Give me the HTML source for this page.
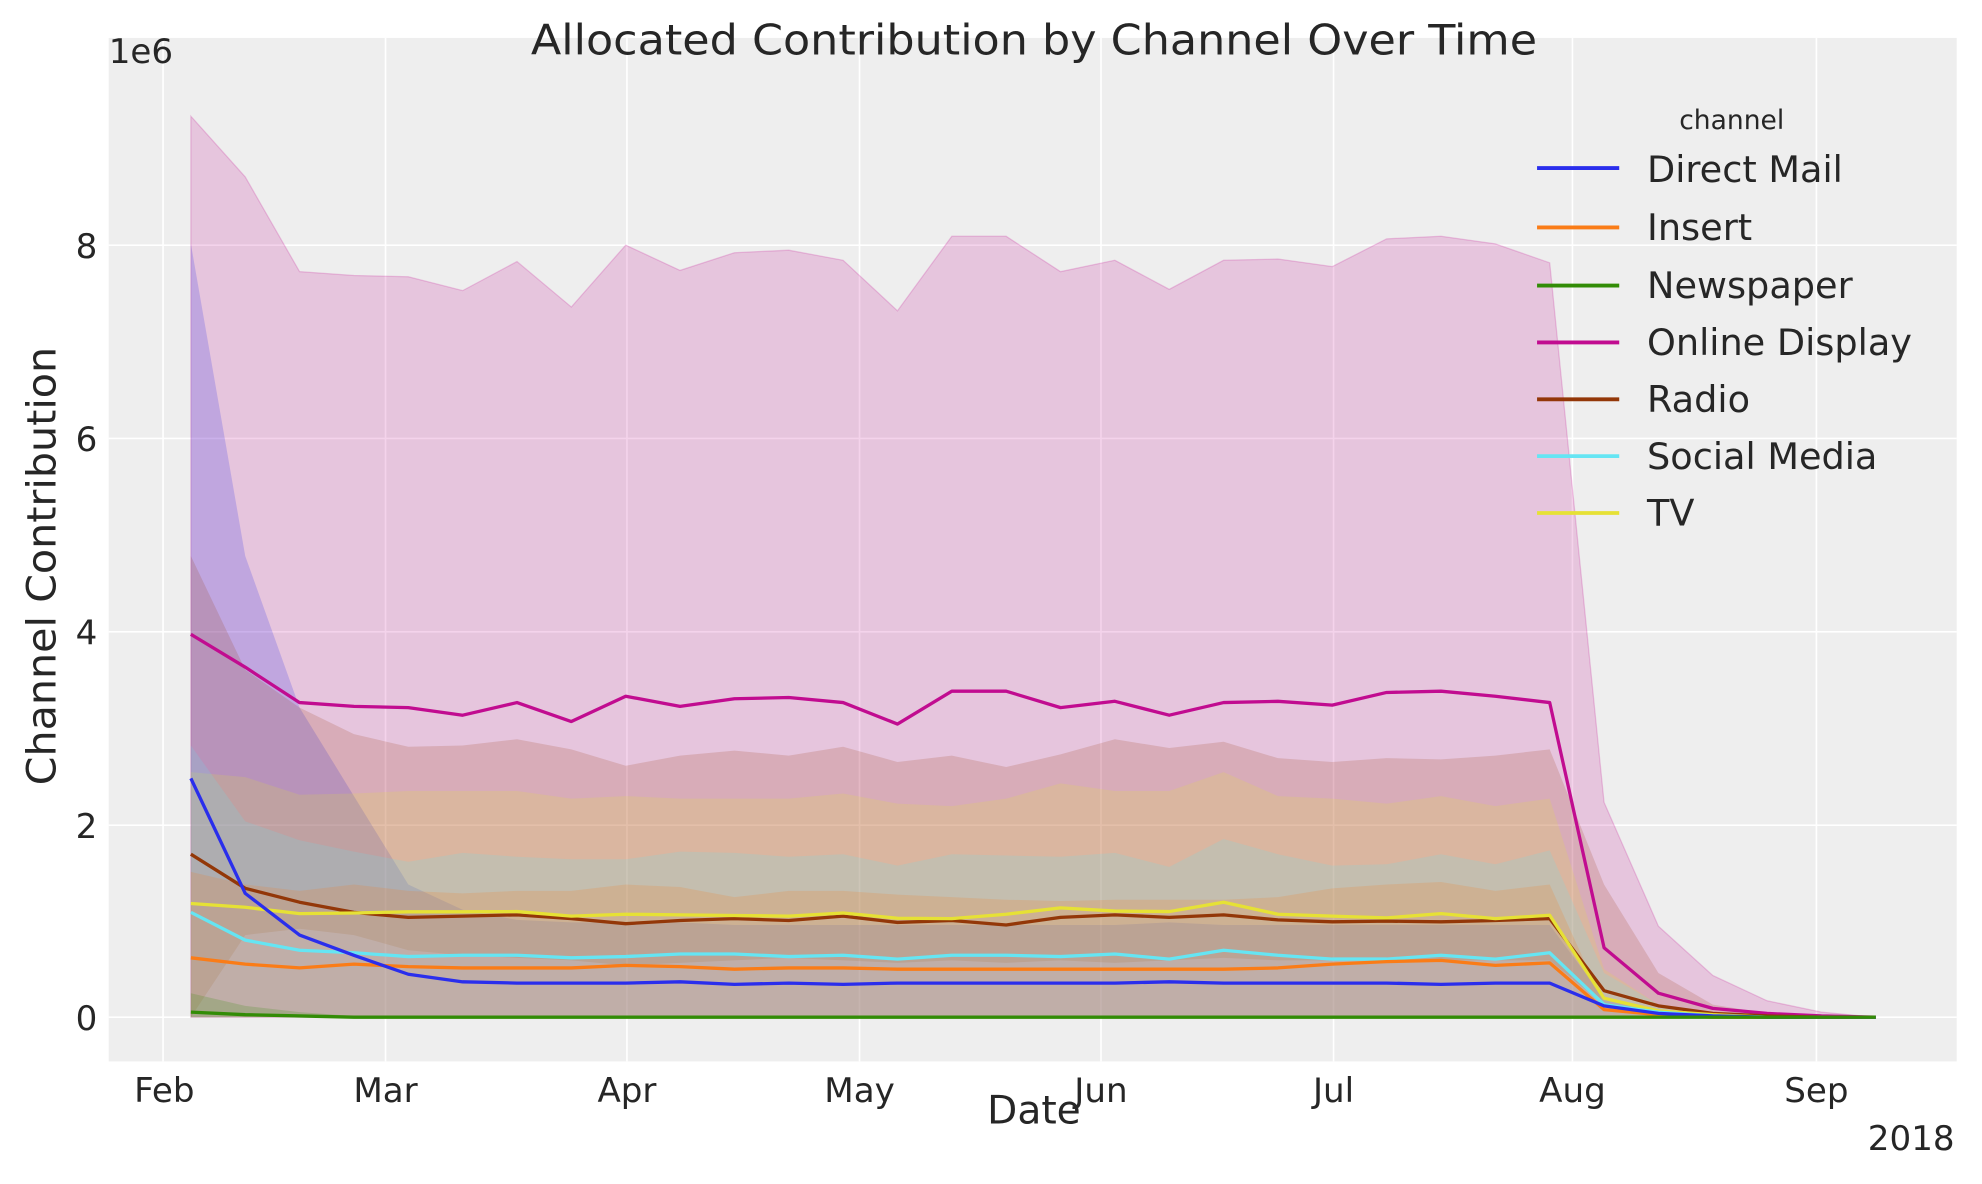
<!DOCTYPE html>
<html><head><meta charset="utf-8"><style>html,body{margin:0;padding:0;background:#fff}svg{display:block}text{font-family:"DejaVu Sans","Liberation Sans",sans-serif;fill:#262626}</style></head><body>
<svg width="1982" height="1184" viewBox="0 0 1568 937" preserveAspectRatio="none" xmlns="http://www.w3.org/2000/svg">
<rect x="86" y="30" width="1462" height="810" fill="#eeeeee"/>
<g stroke="#fff" stroke-width="1.3">
<line x1="129" y1="30" x2="129" y2="840"/><line x1="305" y1="30" x2="305" y2="840"/><line x1="496" y1="30" x2="496" y2="840"/><line x1="680" y1="30" x2="680" y2="840"/><line x1="871" y1="30" x2="871" y2="840"/><line x1="1055" y1="30" x2="1055" y2="840"/><line x1="1244" y1="30" x2="1244" y2="840"/><line x1="1437" y1="30" x2="1437" y2="840"/>
<line x1="86" y1="805" x2="1548" y2="805"/><line x1="86" y1="653" x2="1548" y2="653"/><line x1="86" y1="500" x2="1548" y2="500"/><line x1="86" y1="347" x2="1548" y2="347"/><line x1="86" y1="194" x2="1548" y2="194"/>
</g>
<polygon fill="#c10c90" fill-opacity="0.18" stroke="#c10c90" stroke-opacity="0.2" points="151,92 194,140 237,215 280,218 323,219 366,230 409,207 452,243 495,194 538,214 581,200 624,198 667,206 710,246 753,187 796,187 839,215 882,206 925,229 968,206 1011,205 1054,211 1097,189 1140,187 1183,193 1226,208 1269,635 1312,733 1355,772 1398,792 1441,801 1484,805 1484,805 151,805"/>
<polygon fill="#2a2eec" fill-opacity="0.2" points="151,193 194,440 237,560 280,630 323,700 366,720 409,728 452,730 495,730 538,730 581,732 624,732 667,732 710,732 753,732 796,732 839,732 882,732 925,730 968,732 1011,732 1054,732 1097,732 1140,732 1183,732 1226,732 1269,790 1312,800 1355,804 1398,805 1441,805 1484,805 1484,805 151,805"/>
<polygon fill="#933708" fill-opacity="0.17" points="151,440 194,530 237,560 280,581 323,591 366,590 409,585 452,593 495,606 538,598 581,594 624,598 667,591 710,603 753,598 796,607 839,597 882,585 925,592 968,587 1011,600 1054,603 1097,600 1140,601 1183,598 1226,593 1269,700 1312,770 1355,795 1398,802 1441,805 1484,805 1484,805 1441,805 1398,805 1355,804 1312,802 1269,795 1226,760 1183,760 1140,760 1097,760 1054,760 1011,760 968,758 925,760 882,762 839,760 796,762 753,760 710,762 667,760 624,758 581,760 538,762 495,764 452,760 409,758 366,756 323,752 280,740 237,735 194,740 151,805"/>
<polygon fill="#e6e135" fill-opacity="0.18" points="151,611 194,615 237,629 280,628 323,626 366,626 409,626 452,632 495,630 538,632 581,632 624,632 667,628 710,636 753,638 796,632 839,620 882,626 925,626 968,611 1011,630 1054,632 1097,636 1140,630 1183,638 1226,632 1269,767 1312,795 1355,803 1398,805 1441,805 1484,805 1484,805 151,805"/>
<polygon fill="#65e5f3" fill-opacity="0.18" points="151,590 194,650 237,665 280,674 323,682 366,675 409,678 452,680 495,680 538,674 581,675 624,678 667,676 710,685 753,676 796,677 839,678 882,675 925,686 968,664 1011,676 1054,685 1097,684 1140,676 1183,684 1226,673 1269,770 1312,795 1355,803 1398,805 1441,805 1484,805 1484,805 151,805"/>
<polygon fill="#fa7c17" fill-opacity="0.18" points="151,690 194,700 237,705 280,700 323,705 366,707 409,705 452,705 495,700 538,702 581,710 624,705 667,705 710,708 753,710 796,712 839,713 882,712 925,712 968,712 1011,710 1054,703 1097,700 1140,698 1183,705 1226,700 1269,795 1312,802 1355,805 1398,805 1441,805 1484,805 1484,805 151,805"/>
<polygon fill="#328c06" fill-opacity="0.2" points="151,786 194,796 237,801 280,804 323,805 1484,805 151,805"/>
<g fill="none" stroke-width="2.6" stroke-linejoin="round">
<polyline stroke="#c10c90" points="151,502 194,528 237,556 280,559 323,560 366,566 409,556 452,571 495,551 538,559 581,553 624,552 667,556 710,573 753,547 796,547 839,560 882,555 925,566 968,556 1011,555 1054,558 1097,548 1140,547 1183,551 1226,556 1269,750 1312,786 1355,798 1398,802 1441,804 1484,805"/>
<polyline stroke="#933708" points="151,676 194,703 237,714 280,722 323,726 366,725 409,724 452,727 495,731 538,728.5 581,727 624,728.5 667,725 710,730 753,728.5 796,732 839,726 882,724 925,726 968,724 1011,728 1054,729.5 1097,729 1140,729.5 1183,728.5 1226,727 1269,784 1312,796 1355,802 1398,804 1441,805 1484,805"/>
<polyline stroke="#e6e135" points="151,715 194,718 237,723 280,722.5 323,721.6 366,721.6 409,721.4 452,725 495,723.5 538,724 581,724.5 624,725 667,722.5 710,726.7 753,727 796,723.5 839,718.5 882,721 925,721.4 968,714 1011,723.5 1054,725 1097,726.4 1140,723 1183,727 1226,724.3 1269,790 1312,800 1355,803 1398,805 1441,805 1484,805"/>
<polyline stroke="#65e5f3" points="151,722 194,744 237,752 280,754 323,757 366,756 409,756 452,758 495,757 538,755 581,755 624,757 667,756 710,759 753,756 796,756 839,757 882,755 925,759 968,752 1011,756 1054,759 1097,759 1140,756 1183,759 1226,754 1269,795 1312,801 1355,804 1398,805 1441,805 1484,805"/>
<polyline stroke="#fa7c17" points="151,758 194,763 237,766 280,763 323,765 366,766 409,766 452,766 495,764 538,765 581,767 624,766 667,766 710,767 753,767 796,767 839,767 882,767 925,767 968,767 1011,766 1054,763 1097,761 1140,760 1183,764 1226,762 1269,799 1312,803 1355,805 1398,805 1441,805 1484,805"/>
<polyline stroke="#2a2eec" points="151,616 194,707 237,740 280,756 323,771 366,777 409,778 452,778 495,778 538,777 581,779 624,778 667,779 710,778 753,778 796,778 839,778 882,778 925,777 968,778 1011,778 1054,778 1097,778 1140,779 1183,778 1226,778 1269,796 1312,802 1355,804 1398,805 1441,805 1484,805"/>
<polyline stroke="#328c06" points="151,801 194,803 237,804 280,805 323,805 1484,805"/>
</g>
<g font-size="27" text-anchor="end">
<text x="77" y="815">0</text><text x="77" y="663">2</text><text x="77" y="510">4</text><text x="77" y="357">6</text><text x="77" y="204">8</text>
</g>
<g font-size="27" text-anchor="middle">
<text x="130" y="872">Feb</text><text x="305" y="872">Mar</text><text x="496" y="872">Apr</text><text x="680" y="872">May</text><text x="871" y="872">Jun</text><text x="1055" y="872">Jul</text><text x="1244" y="872">Aug</text><text x="1437" y="872">Sep</text>
</g>
<text x="1512" y="910" font-size="27" text-anchor="middle">2018</text>
<text x="818" y="889" font-size="31" text-anchor="middle">Date</text>
<text x="86" y="50" font-size="27">1e6</text>
<text x="818" y="43" font-size="33" text-anchor="middle" textLength="796" lengthAdjust="spacingAndGlyphs">Allocated Contribution by Channel Over Time</text>
<text transform="translate(44,448) rotate(-90)" font-size="32" text-anchor="middle" textLength="347" lengthAdjust="spacingAndGlyphs">Channel Contribution</text>
<text x="1370" y="102" font-size="21" text-anchor="middle">channel</text>
<g stroke-width="3">
<line x1="1216" y1="133" x2="1281" y2="133" stroke="#2a2eec"/>
<line x1="1216" y1="180" x2="1281" y2="180" stroke="#fa7c17"/>
<line x1="1216" y1="226" x2="1281" y2="226" stroke="#328c06"/>
<line x1="1216" y1="271" x2="1281" y2="271" stroke="#c10c90"/>
<line x1="1216" y1="316" x2="1281" y2="316" stroke="#933708"/>
<line x1="1216" y1="361" x2="1281" y2="361" stroke="#65e5f3"/>
<line x1="1216" y1="406" x2="1281" y2="406" stroke="#e6e135"/>
</g>
<g font-size="29">
<text x="1303" y="144">Direct Mail</text>
<text x="1303" y="190">Insert</text>
<text x="1303" y="236">Newspaper</text>
<text x="1303" y="281">Online Display</text>
<text x="1303" y="326">Radio</text>
<text x="1303" y="371">Social Media</text>
<text x="1303" y="416">TV</text>
</g>
</svg>
</body></html>
